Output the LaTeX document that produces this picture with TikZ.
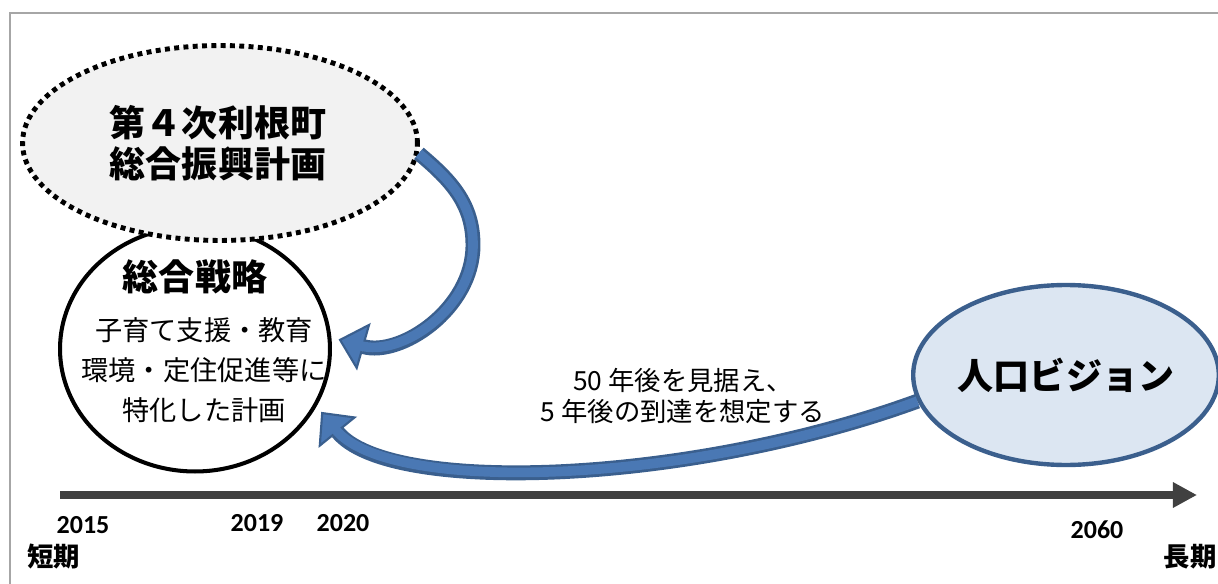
\documentclass[tikz,border=0pt]{standalone}
\usepackage{fontspec}
\setmainfont{Noto Sans CJK JP}
\newfontfamily\yearfont{Carlito}
\usetikzlibrary{arrows.meta,shapes.geometric}
\definecolor{framegray}{HTML}{A6A6A6}
\definecolor{plangray}{HTML}{F2F2F2}
\definecolor{visionfill}{HTML}{DCE6F2}
\definecolor{visionedge}{HTML}{3B5F8D}
\definecolor{flowfill}{HTML}{4A78B4}
\definecolor{flowedge}{HTML}{3A5F8E}
\definecolor{axisgray}{HTML}{404040}
\begin{document}
\begin{tikzpicture}
[x=0.02cm,y=0.02cm,%
  plandecorate/.style={shape=ellipse,inner sep=0pt,minimum width=7.9cm,minimum height=3.9cm,
    draw=black,fill=plangray,line width=2.8pt,dash pattern=on 2.8pt off 2.5pt},%
  strategydecorate/.style={shape=ellipse,inner sep=0pt,minimum width=5.4cm,minimum height=4.9cm,
    draw=black,fill=white,line width=2.3pt},%
  visiondecorate/.style={shape=ellipse,inner sep=0pt,minimum width=5.3cm,minimum height=3.6cm,
    draw=visionedge,fill=visionfill,line width=2.5pt,
    font=\fontsize{20.5}{24}\selectfont\bfseries},%
  titletext/.style={align=center,font=\fontsize{20.5}{23.5}\selectfont\bfseries},%
  bodytext/.style={align=center,font=\fontsize{15.5}{22.8}\selectfont},%
  notetext/.style={align=center,font=\fontsize{15}{18.2}\selectfont},%
  yearlabel/.style={font=\yearfont\fontsize{14.8}{16}\selectfont\bfseries},%
  termlabel/.style={font=\fontsize{15}{16}\selectfont\bfseries},%
  flowdecorate/.style={draw=flowedge,line width=8.5pt,
    -{Triangle[length=15pt,width=28pt,line width=1.2pt,fill=flowfill]},
    postaction={draw=flowfill,line width=5.5pt,-,shorten >=13pt}},%
  axisdecorate/.style={draw=axisgray,line width=4.5pt,-{Triangle[length=13.7pt,width=13.7pt]}}]
\useasboundingbox (0,0) rectangle (1218,583);
%% frame
\draw[framegray,line width=1.2pt] (1230,570) -- (10,570) -- (10,-10);
%% plans
\node (strategy) at (195,234) [strategydecorate] {};
\node (strategytitle) at (195,306) [titletext] {総合戦略};
\node (strategybody) at (204,213) [bodytext] {子育て支援・教育\\環境・定住促進等に\\特化した計画};
\node (plan) at (220,440) [plandecorate] {};
\node (plantitle) at (218,440) [titletext] {第４次利根町\\総合振興計画};
\node (vision) at (1066,208) [visiondecorate] {人口ビジョン};
\node (note) at (683,187) [notetext] {50 年後を見据え、\\5 年後の到達を想定する};
%% time axis
\coordinate (axisstart) at (60,88);
\coordinate (axisend) at (1197,88);
\draw[axisdecorate] (axisstart) -- (axisend);
\foreach \yearname/\x/\y in {2015/83/58, 2019/257/60, 2020/343/60, 2060/1097/53} {
  \node (year\yearname) at (\x,\y) [yearlabel] {\yearname};
}
\node (shortterm) at (54,26) [termlabel] {短期};
\node (longterm) at (1190,26) [termlabel] {長期};
%% arrows
\coordinate (planturn) at (473,338);
\draw[flowdecorate] (plan.-3) to[out=-40,in=90] (planturn)
  to[out=-90,in=-16] ([xshift=0.14cm]strategy.4);
\draw[flowdecorate] (vision.190) to[out=200,in=-51,out looseness=1.05,in looseness=0.46]
  ([xshift=0.16cm]strategy.-28);
\end{tikzpicture}
\end{document}
